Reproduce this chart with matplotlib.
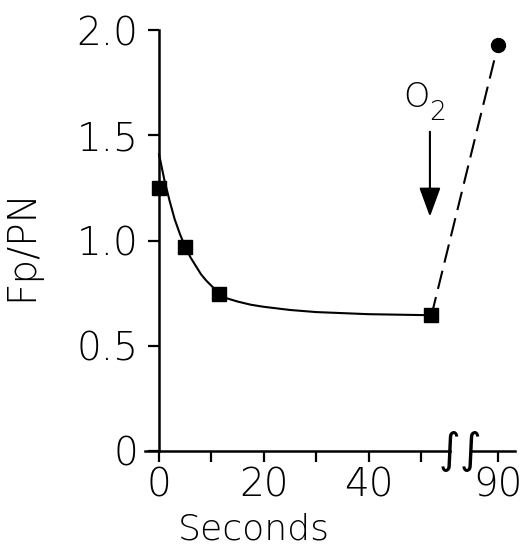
import numpy as np
import matplotlib
matplotlib.use('Agg')
from matplotlib import pyplot as plt

###Data
t_pts = [0, 5, 11.5, 52]
fp_pts = [1.25, 0.97, 0.745, 0.645]
t_o2 = [52, 90]
fp_o2 = [0.645, 1.93]
t_curve = [0, 0.5, 1, 1.5, 2, 2.5, 3, 3.5, 4, 4.5, 5, 6, 7, 8, 9, 10, 11,
           12, 13, 15, 17.5, 20, 25, 30, 40, 52]
fp_curve = [1.41, 1.35, 1.29, 1.24, 1.19, 1.145, 1.10, 1.065, 1.03, 1.0,
            0.97, 0.92, 0.88, 0.84, 0.81, 0.785, 0.76, 0.74, 0.725, 0.71,
            0.695, 0.685, 0.67, 0.66, 0.65, 0.645]
xticks = [0, 10, 20, 30, 40, 50, 90]
xticklabels = ['0', '', '20', '', '40', '', '90']
yticks = [0, 0.5, 1.0, 1.5, 2.0]
yticklabels = ['0', '0.5', '1.0', '1.5', '2.0']

###Broken time axis: 55.5..84.8 s squeezed into a small gap
b1, b2 = 55.5, 84.8
gap = 4.0
def fwd(t):
    t = np.asarray(t, dtype=float)
    return np.where(t <= b1, t,
                    np.where(t < b2, b1 + (t - b1) * gap / (b2 - b1), t - (b2 - b1 - gap)))

def inv(d):
    d = np.asarray(d, dtype=float)
    return np.where(d <= b1, d,
                    np.where(d < b1 + gap, b1 + (d - b1) * (b2 - b1) / gap, d + (b2 - b1 - gap)))

plt.rcParams['font.family'] = ['DejaVu Sans']
plt.rcParams['font.weight'] = 200
plt.rcParams['axes.labelweight'] = 200
fig = plt.figure(figsize=(5.28, 5.46), dpi=100)
ax = fig.add_axes([0.2744, 0.174, 0.7006, 0.771])
ax.set_xscale('function', functions=(fwd, inv))
ax.set_xlim(-2.7, 93.2)
ax.set_ylim(0, 2.0)

#Fitted decay curve, data points and the O2 recovery
ax.plot(t_curve, fp_curve, color='black', lw=1.5, zorder=2)
ax.plot(t_o2, fp_o2, color='black', lw=1.5, dashes=(9, 4), zorder=2)
ax.plot(t_pts, fp_pts, 's', color='black', ms=10, zorder=3)
ax.plot(t_o2[1:], fp_o2[1:], 'o', color='black', ms=10, zorder=3, clip_on=False)

#Arrow and O2 label
ax.annotate('', xy=(51.7, 1.10), xytext=(51.7, 1.53),
            arrowprops=dict(arrowstyle='-|>,head_length=0.9,head_width=0.33',
                            lw=1.5, color='black', mutation_scale=20))
ax.text(49.2, 1.68, 'O', fontsize=24, ha='center', va='center')
ax.text(53.2, 1.61, '2', fontsize=19, ha='center', va='center')

####Axis properties
for s in ['top', 'right']:
    ax.spines[s].set_visible(False)
ax.spines['left'].set_position(('data', 0))
ax.spines['left'].set_bounds(0, 2.0)
ax.spines['bottom'].set_bounds(-2.7, b1)
ax.spines['left'].set_linewidth(1.8)
ax.spines['bottom'].set_linewidth(1.8)
ax.plot([b2, 93.2], [0, 0], color='black', lw=1.8, clip_on=False, zorder=1)
ax.text(b1, 0.0, '\u222b', fontsize=30, fontweight='normal', ha='center', va='center')
ax.text(b2, 0.0, '\u222b', fontsize=30, fontweight='normal', ha='center', va='center')

ax.set_xticks(xticks)
ax.set_xticklabels(xticklabels)
ax.set_yticks(yticks)
ax.set_yticklabels(yticklabels)
ax.tick_params(axis='both', direction='out', length=8, width=1.6, labelsize=28)
ax.tick_params(axis='x', pad=3)
ax.tick_params(axis='y', pad=7)
ax.set_xlabel('Seconds', fontsize=26)
ax.xaxis.set_label_coords(0.295, -0.145)
ax.set_ylabel('Fp/PN', fontsize=28)
ax.yaxis.set_label_coords(-0.283, 0.49)

plt.savefig('out.png', dpi=100)
